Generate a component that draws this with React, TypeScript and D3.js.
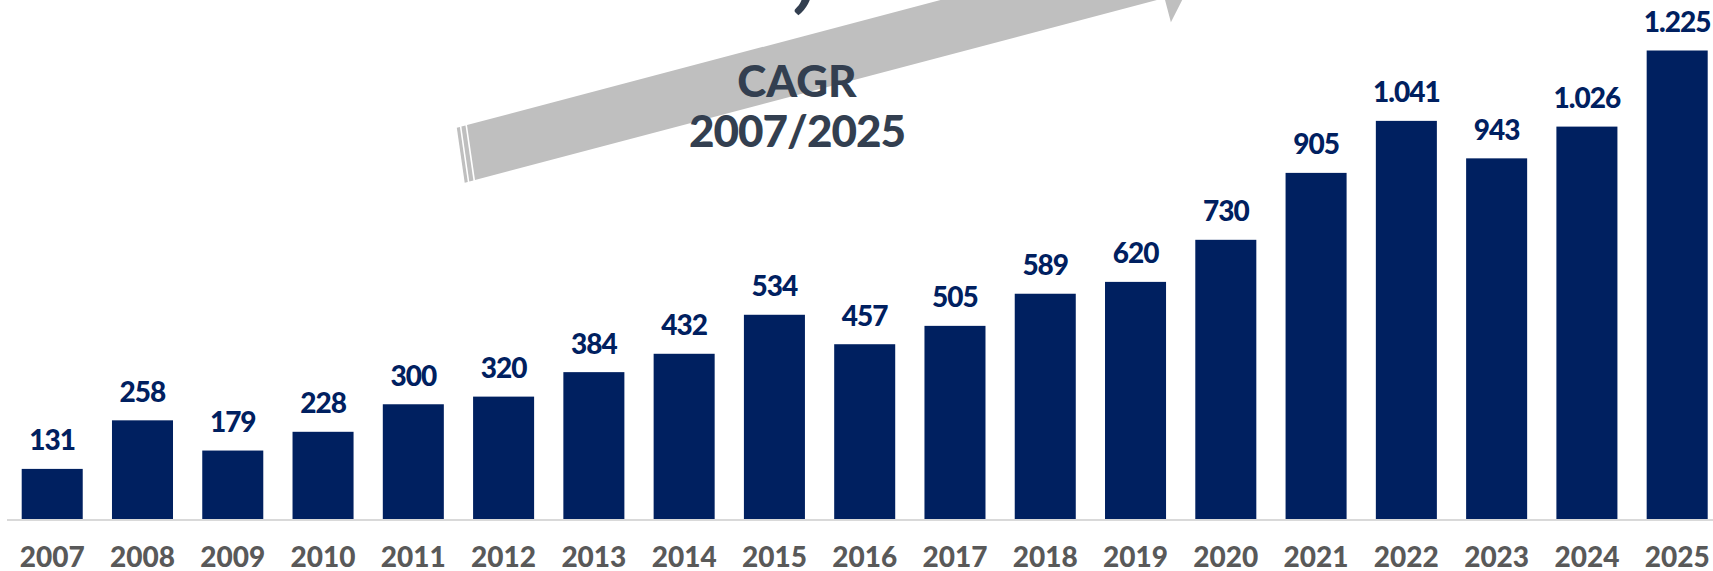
import React from 'react';
import * as d3 from 'd3';

const years = ['2007','2008','2009','2010','2011','2012','2013','2014','2015','2016','2017','2018','2019','2020','2021','2022','2023','2024','2025'];
const values = [131,258,179,228,300,320,384,432,534,457,505,589,620,730,905,1041,943,1026,1225];
const cagrTitle = 'CAGR';
const cagrPeriod = '2007/2025';
const cagrValue = '13,2%';

const W = 1713;
const H = 571;
const FONT = 'Lato, "Open Sans", sans-serif';
const NAVY = '#002060';
const SLATE = '#333f50';

const locale = d3.formatLocale({ decimal: ',', thousands: '.', grouping: [3], currency: ['', ''] });
const fmt = locale.format(',d');

export default function App() {
  const x = d3.scaleBand<string>().domain(years).range([21.7, 1707.7]).paddingInner(0.324).paddingOuter(0);
  const y = d3.scaleLinear().domain([0, 1225]).range([519, 50.5]);

  // arrow geometry in (along, perp) coordinates
  const O = [471, 152.5];
  const ang = Math.atan(-0.264);
  const u = [Math.cos(ang), Math.sin(ang)];
  const n = [-Math.sin(ang), Math.cos(ang)];
  const P = (a: number, p: number) => [O[0] + a * u[0] + p * n[0], O[1] + a * u[1] + p * n[1]];
  const hw = 27.6;
  const poly = (pts: number[][]) => pts.map(q => P(q[0], q[1]).map(v => v.toFixed(1)).join(',')).join(' ');
  const body = poly([[3.2, -hw], [710, -hw], [710, -52.7], [757, 0], [710, 52.7], [710, hw], [-3.2, hw]]);
  const stripe = (o1: number, o2: number) => poly([[3.2 - o2, -hw], [3.2 - o1, -hw], [-3.2 - o1, hw], [-3.2 - o2, hw]]);

  return (
    <svg width={W} height={H} style={{ position: 'absolute', left: 0, top: 0, background: '#fff' }} fontFamily={FONT}>
      <rect x={0} y={0} width={W} height={H} fill="#fff" />
      {/* CAGR value, mostly cut off at the top */}
      <text x={662} y={-1} fontSize={110} fontWeight={900} fill={SLATE}>{cagrValue}</text>
      {/* arrow */}
      <polygon points={body} fill="#bfbfbf" />
      <polygon points={stripe(1.6, 5.8)} fill="#bfbfbf" />
      <polygon points={stripe(7.4, 10.6)} fill="#bfbfbf" />
      <text x={797} y={96.5} textAnchor="middle" fontSize={44} fontWeight={900} fill={SLATE}>{cagrTitle}</text>
      <text x={797} y={147} textAnchor="middle" fontSize={44} fontWeight={900} fill={SLATE} letterSpacing={-1}>{cagrPeriod}</text>
      {/* axis line */}
      <line x1={7} x2={W} y1={520} y2={520} stroke="#d9d9d9" strokeWidth={2} />
      {/* bars */}
      {years.map((yr, i) => (
        <rect key={yr} x={x(yr)} y={y(values[i])} width={x.bandwidth()} height={519 - y(values[i])} fill={NAVY} />
      ))}
      {/* value labels */}
      {years.map((yr, i) => (
        <text key={'v' + yr} x={(x(yr) as number) + x.bandwidth() / 2} y={y(values[i]) - 18.5} textAnchor="middle"
          fontSize={28} fontWeight={900} fill={NAVY} letterSpacing={-1}>{fmt(values[i])}</text>
      ))}
      {/* axis labels */}
      {years.map(yr => (
        <text key={'a' + yr} x={(x(yr) as number) + x.bandwidth() / 2} y={566.5} textAnchor="middle"
          fontSize={28} fontWeight={900} fill="#595959">{yr}</text>
      ))}
    </svg>
  );
}
